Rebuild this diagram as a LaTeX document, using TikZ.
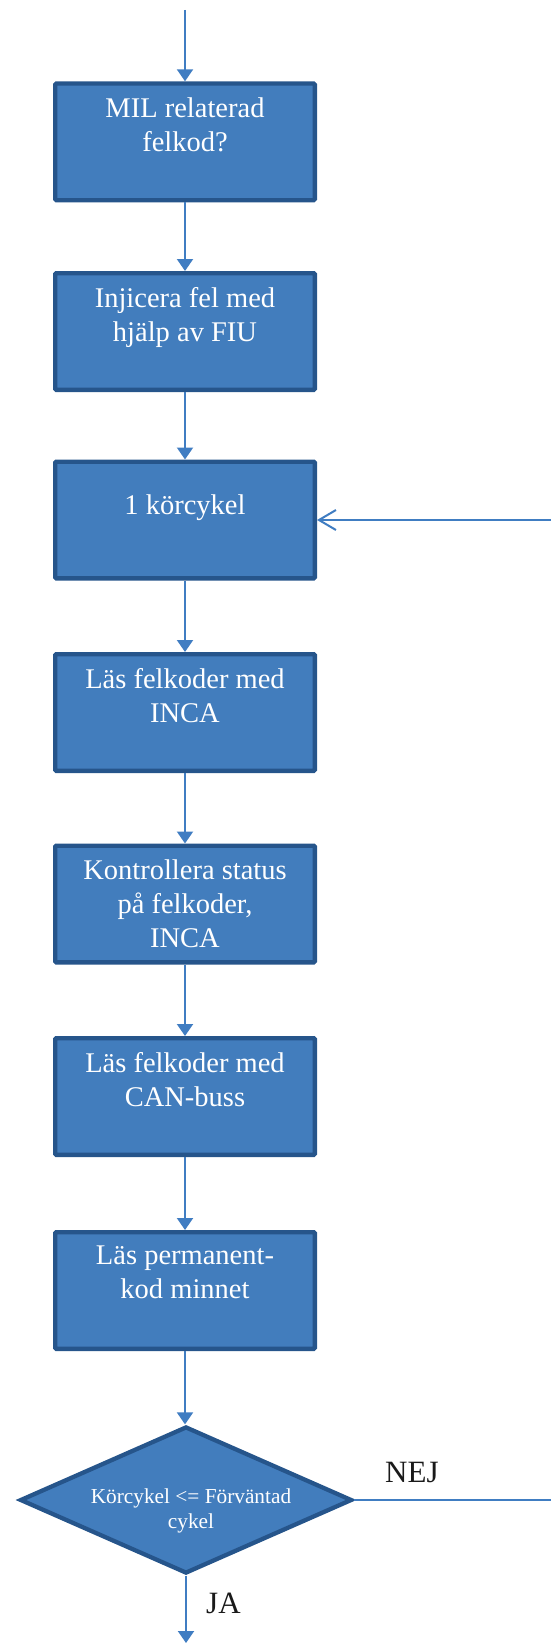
\documentclass[tikz,border=0pt]{standalone}
\usepackage{fontspec}
\setmainfont{Liberation Serif}
\usetikzlibrary{arrows.meta,shapes.geometric}

\definecolor{boxfill}{RGB}{66,125,189}
\definecolor{boxedge}{RGB}{38,85,139}
\definecolor{flowline}{RGB}{64,125,194}
\definecolor{labelink}{RGB}{26,26,26}

\begin{document}
\begin{tikzpicture}[x=1pt,y=-1pt,
  stepbox/.style={rectangle, draw=boxedge, fill=boxfill, line width=4.3pt,
    rounded corners=1.2pt, minimum width=259.7pt, minimum height=116.7pt, inner sep=0pt},
  boxtext/.style={anchor=north, align=center, inner sep=0pt, text=white,
    font=\fontsize{28.5}{34}\selectfont, execute at begin node={\rule{0pt}{24pt}}},
  decision/.style={diamond, draw=boxedge, fill=boxfill, line width=4.3pt,
    minimum width=332pt, minimum height=147pt, inner sep=0pt},
  decisiontext/.style={anchor=north, align=center, inner sep=0pt, text=white,
    font=\fontsize{21.3}{25}\selectfont, execute at begin node={\rule{0pt}{18pt}}},
  answer/.style={inner sep=0pt, text=labelink, font=\fontsize{31}{36}\selectfont},
  flow/.style={draw=flowline, line width=2pt, -{Triangle[length=12pt,width=16pt]}},
  backflow/.style={draw=flowline, line width=2pt, -{Straight Barb[length=17pt,width=20pt]}},
  plainline/.style={draw=flowline, line width=2pt}
]
\useasboundingbox (0,0) rectangle (551,1643);

% process steps
\node[stepbox] (b1) at (185,141.8) {};
\node[stepbox] (b2) at (185,331.5) {};
\node[stepbox] (b3) at (185,520) {};
\node[stepbox] (b4) at (185,712.5) {};
\node[stepbox] (b5) at (185,904) {};
\node[stepbox] (b6) at (185,1096.5) {};
\node[stepbox] (b7) at (185,1290.5) {};

\node[boxtext] (t1) at ([yshift=-16pt]b1.north) {MIL relaterad\\felkod?};
\node[boxtext] (t2) at ([yshift=-16pt]b2.north) {Injicera fel med\\hjälp av FIU};
\node[boxtext] (t3) at ([yshift=-31pt]b3.north) {1 körcykel};
\node[boxtext] (t4) at ([yshift=-16pt]b4.north) {Läs felkoder med\\INCA};
\node[boxtext] (t5) at ([yshift=-16pt]b5.north) {Kontrollera status\\på felkoder,\\INCA};
\node[boxtext] (t6) at ([yshift=-16pt]b6.north) {Läs felkoder med\\CAN-buss};
\node[boxtext] (t7) at ([yshift=-16pt]b7.north) {Läs permanent-\\kod minnet};

% decision
\node[decision] (dia) at (186,1500) {};
\node[decisiontext] (dt) at ([xshift=5pt,yshift=11.3pt]dia.center) {Körcykel <= Förväntad\\cykel};

\node[answer, anchor=base west] (nej) at (385,1482) {NEJ};
\node[answer, anchor=base west] (ja) at (206,1613) {JA};

% loose ends of the flow
\coordinate (entry) at (185,10);
\coordinate (loopin) at (551,520);
\coordinate (loopout) at (551,1500);
\coordinate (exit) at (186,1643);

% connectors
\draw[flow] (entry) -- (b1.north);
\draw[flow] (b1.south) -- (b2.north);
\draw[flow] (b2.south) -- (b3.north);
\draw[flow] (b3.south) -- (b4.north);
\draw[flow] (b4.south) -- (b5.north);
\draw[flow] (b5.south) -- (b6.north);
\draw[flow] (b6.south) -- (b7.north);
\draw[flow] (b7.south) -- (b7.south |- dia.north);
\draw[flow] (dia.south) -- (exit);
\draw[plainline] (dia.east) -- (loopout);
\draw[backflow] (loopin) -- (b3.east);
\end{tikzpicture}
\end{document}
